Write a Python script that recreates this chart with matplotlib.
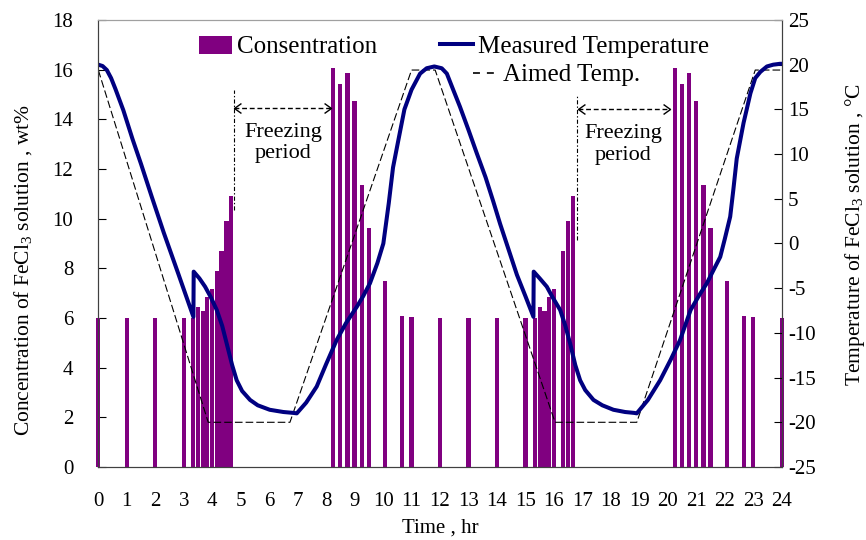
import matplotlib
matplotlib.use('Agg')
import matplotlib.pyplot as plt
from matplotlib.patches import Patch
from matplotlib.lines import Line2D
from matplotlib.path import Path

plt.rcParams['font.family'] = ['Liberation Serif', 'DejaVu Serif']
plt.rcParams['mathtext.default'] = 'regular'
plt.rcParams['lines.scale_dashes'] = False
plt.rcParams['axes.unicode_minus'] = False

# ---------------- data ----------------
x_ticks = list(range(0, 25))
conc_ticks = list(range(0, 19, 2))
temp_ticks = list(range(-25, 26, 5))

# FeCl3 concentration samples (hr, wt%)
conc_time = [0, 1, 2, 3, 3.33, 3.5, 3.67, 3.83, 4.0, 4.17, 4.33, 4.5, 4.67,
             8.25, 8.5, 8.75, 9.0, 9.25, 9.5, 10.08, 10.67, 11.0, 12, 13, 14, 15,
             15.33, 15.5, 15.67, 15.83, 16.0, 16.33, 16.5, 16.67,
             20.25, 20.5, 20.75, 21.0, 21.25, 21.5, 22.08, 22.67, 23.0, 24]
conc_value = [6.0, 6.0, 6.0, 6.0, 6.0, 6.46, 6.3, 6.86, 7.15, 7.9, 8.7, 9.92, 10.9,
              16.06, 15.42, 15.88, 14.75, 11.36, 9.64, 7.49, 6.09, 6.03, 6.0, 6.0, 6.0, 6.0,
              6.0, 6.46, 6.3, 6.86, 7.15, 8.7, 9.92, 10.9,
              16.06, 15.42, 15.88, 14.75, 11.36, 9.64, 7.49, 6.09, 6.03, 6.0]

# Measured temperature (hr, degC)
meas_time = [0.0, 0.15, 0.3, 0.45, 0.6, 0.88, 1.2, 1.5, 1.88, 2.3, 2.8, 3.34,
             3.35, 3.55, 3.75, 3.95, 4.16, 4.35, 4.51, 4.7, 4.86, 5.05, 5.33, 5.6,
             6.02, 6.5, 6.85, 6.97, 7.3, 7.67, 8.0, 8.37, 8.7, 9.08, 9.3, 9.54, 9.8,
             10.01, 10.2, 10.35, 10.54, 10.75, 11.0, 11.3, 11.53, 11.8, 12.06, 12.24,
             12.45, 12.7, 13.0, 13.29, 13.6, 13.87, 14.11, 14.4, 14.7, 15.0, 15.28,
             15.29, 15.5, 15.75, 15.95, 16.22, 16.4, 16.57, 16.75, 16.92, 17.1, 17.39,
             17.7, 18.09, 18.5, 18.82, 18.91, 19.3, 19.73, 20.1, 20.43, 20.8, 21.1,
             21.37, 21.6, 21.84, 22.0, 22.19, 22.3, 22.42, 22.66, 22.77, 22.9, 23.07,
             23.25, 23.48, 23.7, 23.94, 24.0]
meas_temp = [20.0, 19.85, 19.4, 18.5, 17.3, 14.9, 11.7, 8.9, 5.2, 1.2, -3.3, -8.2,
             -3.15, -3.9, -4.83, -6.0, -7.44, -9.2, -11.2, -13.6, -15.3, -16.5, -17.5, -18.1,
             -18.6, -18.85, -18.95, -19.0, -17.8, -16.0, -13.5, -10.8, -8.9, -7.07, -5.9, -4.45, -2.2,
             0.0, 4.5, 8.5, 11.6, 15.0, 17.2, 19.0, 19.6, 19.8, 19.6, 19.0,
             17.3, 15.3, 12.7, 10.1, 7.4, 4.7, 2.2, -0.6, -3.5, -5.9, -8.2,
             -3.15, -3.9, -4.83, -6.0, -7.44, -9.2, -11.2, -13.6, -15.3, -16.4, -17.5,
             -18.1, -18.6, -18.85, -18.95, -19.0, -17.5, -15.3, -13.0, -10.8, -7.44, -5.8,
             -4.45, -3.0, -1.5, 0.5, 3.0, 6.0, 9.5, 13.5, 15.0, 16.8, 18.5,
             19.2, 19.8, 20.0, 20.1, 20.1]

# Aimed temperature program (hr, degC)
aim_time = [0, 3.86, 6.73, 11.0, 11.83, 16.04, 18.91, 23.07, 24]
aim_temp = [19.4, -20, -20, 19.4, 19.4, -20, -20, 19.4, 19.4]

# Freezing period annotations (hr, wt%)
freeze_line_x = [4.78, 16.8]
freeze_line_y0 = [10.35, 9.14]
freeze_line_y1 = [15.18, 14.98]
freeze_arrow_x0 = [4.78, 16.86]
freeze_arrow_x1 = [8.16, 20.08]
freeze_arrow_y = [14.45, 14.41]
freeze_text_x = [6.5, 18.44]
freeze_text_y = [13.05, 12.97]

PURPLE = '#800080'
NAVY = '#000080'

fig = plt.figure(figsize=(8.66, 5.4), dpi=100)
ax = fig.add_axes([0.1135, 0.1352, 0.7892, 0.8278])
ax.bar(conc_time, conc_value, width=0.15, color=PURPLE, clip_on=False, zorder=2)
ax.set_xlim(0, 24)
ax.set_ylim(0, 18)
ax.set_xticks(x_ticks)
ax.set_yticks(conc_ticks)
ax.tick_params(axis='x', length=0, pad=18, labelsize=15)
ax.tick_params(axis='y', direction='in', length=6, pad=18, labelsize=15)

# freezing period annotations
right_head = Path([(-1.4, 1), (0, 0), (-1.4, -1)])
left_head = Path([(1.4, 1), (0, 0), (1.4, -1)])
for i in range(2):
    ax.plot([freeze_line_x[i], freeze_line_x[i]], [freeze_line_y0[i], freeze_line_y1[i]],
            color='black', lw=0.8, dashes=(3, 1.5, 1, 1.5), zorder=3)
    ax.plot([freeze_arrow_x0[i], freeze_arrow_x1[i]], [freeze_arrow_y[i], freeze_arrow_y[i]],
            color='black', lw=1.0, dashes=(3.5, 2), zorder=3)
    ax.plot([freeze_arrow_x0[i]], [freeze_arrow_y[i]], marker=left_head, ms=10,
            color='black', mew=1.0, fillstyle='none', ls='none', zorder=3)
    ax.plot([freeze_arrow_x1[i]], [freeze_arrow_y[i]], marker=right_head, ms=10,
            color='black', mew=1.0, fillstyle='none', ls='none', zorder=3)
    ax.text(freeze_text_x[i], freeze_text_y[i], 'Freezing\nperiod', ha='center', va='center',
            fontsize=16, linespacing=1.2, zorder=3)

ax2 = ax.twinx()
ax2.set_ylim(-25, 25)
ax2.set_yticks(temp_ticks)
ax2.tick_params(axis='y', direction='in', length=6, pad=4.5, labelsize=15)
ax2.plot(aim_time, aim_temp, color='black', lw=0.8, dashes=(5.5, 2.2))
ax2.plot(meas_time, meas_temp, color=NAVY, lw=2.9, solid_joinstyle='round', solid_capstyle='round')

for a in (ax, ax2):
    for s in a.spines.values():
        s.set_color('#404040')
    a.spines['top'].set_color('#a0a0a0')

ax.set_xlabel('Time , hr', fontsize=15, va='center')
ax.xaxis.set_label_coords(0.5, -0.1365)
ax.set_ylabel('Concentration of FeCl$\\mathregular{_3}$ solution , wt%', fontsize=15.5, va='center')
ax.yaxis.set_label_coords(-0.110, 0.44)
ax2.set_ylabel('Temperature of FeCl$\\mathregular{_3}$ solution , \u00b0C', fontsize=15.5,
               va='center', rotation=90)
ax2.yaxis.set_label_coords(1.107, 0.52)

h_bar = Patch(facecolor=PURPLE, edgecolor='none')
h_meas = Line2D([], [], color=NAVY, lw=2.9)
h_aim = Line2D([], [], color='black', lw=1.2, dashes=(5, 5))
leg1 = ax2.legend([h_bar, h_meas], ['Consentration', 'Measured Temperature'], ncol=2,
                  loc='center left', bbox_to_anchor=(199 / 866, 1 - 47 / 540),
                  bbox_transform=fig.transFigure, frameon=False, fontsize=18,
                  handlelength=1.32, handleheight=0.72, handletextpad=0.2,
                  columnspacing=2.5, borderpad=0, borderaxespad=0)
ax2.add_artist(leg1)
leg2 = ax2.legend([h_aim], ['Aimed Temp.'], loc='center left',
                  bbox_to_anchor=(473 / 866, 1 - 75 / 540), bbox_transform=fig.transFigure,
                  frameon=False, fontsize=18, handlelength=0.85, handletextpad=0.35,
                  borderpad=0, borderaxespad=0)

fig.savefig('out.png', dpi=100)
